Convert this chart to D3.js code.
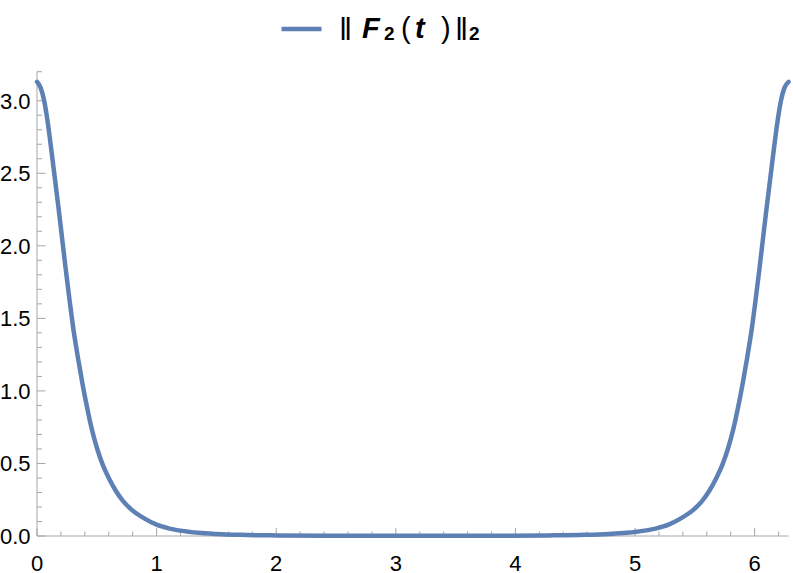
<!DOCTYPE html>
<html>
<head>
<meta charset="utf-8">
<script src="https://cdn.jsdelivr.net/npm/d3@7"></script>
<style>
  html, body { margin: 0; padding: 0; background: #fff; }
  svg { display: block; }
  text { font-family: "Liberation Sans", Arial, sans-serif; }
</style>
</head>
<body>
<svg id="chart" width="793" height="573"></svg>
<script>
// ---- data ----
const tValues = [
  0, 0.03, 0.06, 0.09, 0.12, 0.15, 0.18, 0.21, 0.24, 0.27, 0.30, 0.34, 0.38, 0.42, 0.46, 0.50,
  0.55, 0.60, 0.66, 0.72, 0.80, 0.90, 1.0, 1.1, 1.2, 1.35, 1.5, 1.7, 2.0, 2.4, 2.8, 3.1416,
  3.48, 3.88, 4.28, 4.58, 4.78, 4.93, 5.08, 5.18, 5.28, 5.38, 5.48, 5.56, 5.62, 5.68, 5.73, 5.78,
  5.82, 5.86, 5.90, 5.94, 5.98, 6.01, 6.04, 6.07, 6.10, 6.13, 6.16, 6.19, 6.22, 6.25, 6.2832
];
const normValues = [
  3.13, 3.09, 3.00, 2.85, 2.66, 2.46, 2.26, 2.05, 1.84, 1.64, 1.45, 1.24, 1.05, 0.88, 0.73, 0.61,
  0.49, 0.40, 0.31, 0.24, 0.175, 0.12, 0.078, 0.053, 0.037, 0.022, 0.014, 0.008, 0.004, 0.002, 0.001, 0.001,
  0.001, 0.002, 0.004, 0.008, 0.014, 0.022, 0.037, 0.053, 0.078, 0.12, 0.175, 0.24, 0.31, 0.40, 0.49, 0.61,
  0.73, 0.88, 1.05, 1.24, 1.45, 1.64, 1.84, 2.05, 2.26, 2.46, 2.66, 2.85, 3.00, 3.09, 3.13
];
const xMajorTicks = [0, 1, 2, 3, 4, 5, 6];
const xTickLabels = ["0", "1", "2", "3", "4", "5", "6"];
const yMajorTicks = [0, 0.5, 1.0, 1.5, 2.0, 2.5, 3.0];
const yTickLabels = ["0.0", "0.5", "1.0", "1.5", "2.0", "2.5", "3.0"];
const seriesName = "‖F₂(t)‖₂";

// ---- layout ----
const svg = d3.select("#chart");
const x = d3.scaleLinear().domain([0, 2 * Math.PI]).range([37, 788.5]);
const y = d3.scaleLinear().domain([0, 3.2]).range([536, 71.7]);
const axisColor = "#a6a6a6";
const lineColor = "#5e81b5";

const xMinor = d3.range(0, 6.3, 0.2).filter(v => Math.abs(v - Math.round(v)) > 1e-6);
const yMinor = d3.range(0, 3.25, 0.1).filter(v => Math.abs(v * 2 - Math.round(v * 2)) > 1e-6);

// x axis
const gx = svg.append("g").attr("transform", `translate(0,${y(0)})`);
gx.append("line").attr("x1", x(0)).attr("x2", x(2 * Math.PI)).attr("y1", 0).attr("y2", 0)
  .attr("stroke", axisColor).attr("stroke-width", 1);
gx.selectAll("line.maj").data(xMajorTicks).join("line").attr("class", "maj")
  .attr("x1", d => x(d)).attr("x2", d => x(d)).attr("y1", 0).attr("y2", -8)
  .attr("stroke", axisColor);
gx.selectAll("line.min").data(xMinor).join("line").attr("class", "min")
  .attr("x1", d => x(d)).attr("x2", d => x(d)).attr("y1", 0).attr("y2", -4.5)
  .attr("stroke", axisColor);
gx.selectAll("text").data(xMajorTicks).join("text")
  .attr("x", d => x(d)).attr("y", 34.5).attr("text-anchor", "middle")
  .attr("font-size", 22).attr("fill", "#000")
  .text((d, i) => xTickLabels[i]);

// y axis
const gy = svg.append("g").attr("transform", `translate(${x(0)},0)`);
gy.append("line").attr("x1", 0).attr("x2", 0).attr("y1", y(0)).attr("y2", y(3.2))
  .attr("stroke", axisColor).attr("stroke-width", 1);
gy.selectAll("line.maj").data(yMajorTicks).join("line").attr("class", "maj")
  .attr("x1", 0).attr("x2", 8.5).attr("y1", d => y(d)).attr("y2", d => y(d))
  .attr("stroke", axisColor);
gy.selectAll("line.min").data(yMinor).join("line").attr("class", "min")
  .attr("x1", 0).attr("x2", 5).attr("y1", d => y(d)).attr("y2", d => y(d))
  .attr("stroke", axisColor);
gy.selectAll("text").data(yMajorTicks).join("text")
  .attr("x", -6.5).attr("y", d => y(d)).attr("dy", "0.36em").attr("text-anchor", "end")
  .attr("font-size", 22).attr("fill", "#000")
  .text((d, i) => yTickLabels[i]);

// curve
const pts = tValues.map((t, i) => [t, normValues[i]]);
const line = d3.line().x(d => x(d[0])).y(d => y(d[1])).curve(d3.curveMonotoneX);
svg.append("path").datum(pts).attr("d", line)
  .attr("fill", "none").attr("stroke", lineColor).attr("stroke-width", 4.5)
  .attr("stroke-linejoin", "round").attr("stroke-linecap", "round");

// legend
const lg = svg.append("g").attr("aria-label", seriesName);
lg.append("line").attr("x1", 281.5).attr("x2", 321.5).attr("y1", 29).attr("y2", 29)
  .attr("stroke", lineColor).attr("stroke-width", 4.5);
const pieces = [
  {s: "‖", x: 339, size: 32, weight: "normal", style: "normal", base: 40},
  {s: "F", x: 362, size: 29, weight: "bold", style: "italic", base: 38},
  {s: "2", x: 384, size: 19, weight: "bold", style: "normal", base: 40},
  {s: "(", x: 401, size: 29, weight: "normal", style: "normal", base: 38},
  {s: "t", x: 415, size: 29, weight: "bold", style: "italic", base: 38},
  {s: ")", x: 441, size: 29, weight: "normal", style: "normal", base: 38},
  {s: "‖", x: 455, size: 32, weight: "normal", style: "normal", base: 40},
  {s: "2", x: 469, size: 19, weight: "bold", style: "normal", base: 40}
];
const lt = lg.append("text").attr("fill", "#000");
pieces.forEach(p => {
  lt.append("tspan").attr("x", p.x).attr("y", p.base)
    .attr("font-size", p.size).attr("font-weight", p.weight).attr("font-style", p.style)
    .text(p.s);
});
</script>
</body>
</html>
